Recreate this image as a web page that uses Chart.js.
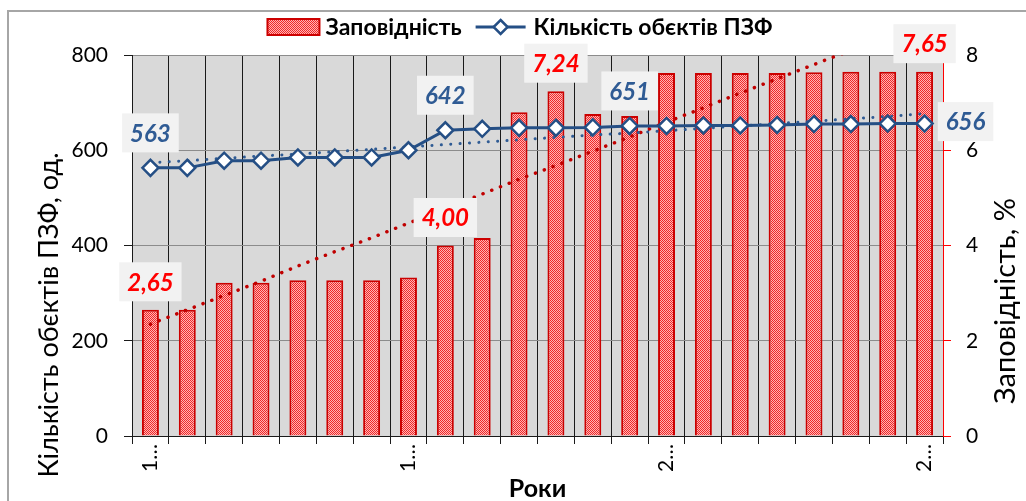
<!DOCTYPE html>
<html>
<head>
<meta charset="utf-8">
<script src="https://cdn.jsdelivr.net/npm/chart.js@4/dist/chart.umd.min.js"></script>
<style>
  html, body { margin: 0; padding: 0; background: #fff; overflow: hidden; }
  #wrap { position: relative; width: 1026px; height: 501px; }
  #frame { position: absolute; left: 7px; top: 10px; width: 1100px; height: 600px; border: 2px solid #a6a6a6; }
  #chart { position: absolute; left: 0; top: 0; }
</style>
</head>
<body>
<div id="wrap">
  <div id="frame"></div>
  <canvas id="chart" width="1026" height="501"></canvas>
</div>
<script>
// Підписи категорій (роки, як видно на осі — обрізані)
const years = ['1…', '', '', '', '', '', '', '1…', '', '', '', '', '', '', '2…', '', '', '', '', '', '', '2…'];

// Заповідність, %
const reserveShare = [2.65, 2.65, 3.22, 3.22, 3.27, 3.27, 3.27, 3.33, 4.00, 4.16, 6.80, 7.24,
                      6.76, 6.72, 7.62, 7.62, 7.62, 7.62, 7.64, 7.65, 7.65, 7.65];
// Кількість об'єктів ПЗФ, од.
const objectsCount = [563, 563, 578, 578, 585, 585, 585, 600, 642, 645, 647, 647,
                      648, 651, 651, 652, 652, 653, 655, 655, 656, 656];
// Лінії тренду
const shareTrend = [2.35, 2.65, 2.95, 3.25, 3.57, 3.87, 4.16, 4.47, 4.77, 5.08, 5.39, 5.68,
                    5.98, 6.28, 6.59, 6.89, 7.20, 7.50, 7.80, 8.10, 8.40, 8.70];
const countTrend = [574, 578, 583, 588, 592, 597, 602, 607, 612, 617, 622, 627,
                    632, 636, 641, 646, 651, 656, 661, 666, 671, 677];

// Які точки підписані
const shareLabelIdx = [0, 8, 11, 21];
const countLabelIdx = [0, 8, 13, 21];

const leftTicks = [0, 200, 400, 600, 800];
const rightTicks = [0, 2, 4, 6, 8];

const FONT = 'Lato, "Open Sans", sans-serif';
const RED = '#ff0000';
const BAR_BORDER = '#cc0000';
const BLUE = '#254f85';
const BLUE_TXT = '#2f5b94';

// Візерунок для стовпчиків (дрібна червона крапка)
function makePattern() {
    const c = document.createElement('canvas');
    c.width = 2; c.height = 2;
    const g = c.getContext('2d');
    g.fillStyle = '#ffb4b4';
    g.fillRect(0, 0, 2, 2);
    g.fillStyle = '#f02828';
    g.fillRect(0, 0, 1, 1);
    g.fillRect(1, 1, 1, 1);
    return g.createPattern(c, 'repeat');
}
const barPattern = makePattern();

// Сірий фон області побудови
const plotBg = {
    id: 'plotBg',
    beforeDraw(chart) {
        const { ctx, chartArea: a } = chart;
        ctx.save();
        ctx.fillStyle = '#d9d9d9';
        ctx.fillRect(a.left, a.top, a.right - a.left, a.bottom - a.top);
        ctx.restore();
    }
};

// Легенда, назви осей Y та підписи даних
const extras = {
    id: 'extras',
    afterDraw(chart) {
        const ctx = chart.ctx;
        ctx.save();

        // --- легенда ---
        ctx.font = 'bold 23px ' + FONT;
        ctx.textBaseline = 'middle';
        const t1 = 'Заповідність';
        const t2 = 'Кількість обєктів ПЗФ';
        const w1 = ctx.measureText(t1).width;
        const w2 = ctx.measureText(t2).width;
        const total = 52 + 6 + w1 + 14 + 50 + 8 + w2;
        let x = 520 - total / 2;
        const ly = 27;
        ctx.fillStyle = barPattern;
        ctx.fillRect(x, ly - 8, 52, 16);
        ctx.strokeStyle = BAR_BORDER;
        ctx.lineWidth = 2;
        ctx.strokeRect(x, ly - 8, 52, 16);
        x += 58;
        ctx.fillStyle = '#000';
        ctx.textAlign = 'left';
        ctx.fillText(t1, x, ly + 1);
        x += w1 + 14;
        ctx.strokeStyle = BLUE;
        ctx.lineWidth = 3;
        ctx.beginPath();
        ctx.moveTo(x, ly); ctx.lineTo(x + 50, ly);
        ctx.stroke();
        const cx = x + 25;
        ctx.beginPath();
        ctx.moveTo(cx, ly - 7); ctx.lineTo(cx + 7, ly); ctx.lineTo(cx, ly + 7); ctx.lineTo(cx - 7, ly);
        ctx.closePath();
        ctx.fillStyle = '#fff';
        ctx.fill();
        ctx.lineWidth = 2.5;
        ctx.stroke();
        x += 58;
        ctx.fillStyle = '#000';
        ctx.fillText(t2, x, ly + 1);

        // --- назви осей Y ---
        ctx.textAlign = 'center';
        ctx.font = '27px ' + FONT;
        ctx.save();
        ctx.translate(49, 315);
        ctx.rotate(-Math.PI / 2);
        ctx.fillText('Кількість обєктів ПЗФ, од.', 0, 0);
        ctx.restore();
        ctx.font = '29px ' + FONT;
        ctx.save();
        ctx.translate(1006, 301);
        ctx.rotate(-Math.PI / 2);
        ctx.fillText('Заповідність, %', 0, 0);
        ctx.restore();

        // --- підписи даних ---
        ctx.font = 'italic bold 24px ' + FONT;
        function tag(text, px, py, color) {
            const w = ctx.measureText(text).width + 16;
            const h = 39;
            ctx.fillStyle = '#f2f2f2';
            ctx.fillRect(px - w / 2, py - h / 2, w, h);
            ctx.fillStyle = color;
            ctx.textAlign = 'center';
            ctx.fillText(text, px, py + 1);
        }
        const barMeta = chart.getDatasetMeta(0);
        shareLabelIdx.forEach(i => {
            const el = barMeta.data[i];
            tag(reserveShare[i].toFixed(2).replace('.', ','), el.x, el.y - 28, RED);
        });
        const lineMeta = chart.getDatasetMeta(1);
        countLabelIdx.forEach(i => {
            const el = lineMeta.data[i];
            if (i === objectsCount.length - 1) {
                tag(String(objectsCount[i]), el.x + 41, el.y - 2, BLUE_TXT);
            } else {
                tag(String(objectsCount[i]), el.x, el.y - 35, BLUE_TXT);
            }
        });
        ctx.restore();
    }
};

new Chart(document.getElementById('chart'), {
    type: 'bar',
    data: {
        labels: years,
        datasets: [
            {
                label: 'Заповідність',
                data: reserveShare,
                yAxisID: 'y1',
                backgroundColor: barPattern,
                borderColor: BAR_BORDER,
                borderWidth: 2,
                barPercentage: 0.46,
                categoryPercentage: 1,
                order: 3
            },
            {
                type: 'line',
                label: 'Кількість обєктів ПЗФ',
                data: objectsCount,
                yAxisID: 'y',
                borderColor: BLUE,
                borderWidth: 3,
                pointStyle: 'rectRot',
                pointRadius: 8,
                pointBackgroundColor: '#fff',
                pointBorderColor: BLUE,
                pointBorderWidth: 2.5,
                tension: 0,
                order: 0
            },
            {
                type: 'line',
                label: 'Тренд заповідності',
                data: shareTrend,
                yAxisID: 'y1',
                borderColor: '#c00000',
                borderWidth: 3.5,
                borderDash: [0.1, 9.3],
                borderCapStyle: 'round',
                pointRadius: 0,
                order: 2
            },
            {
                type: 'line',
                label: 'Тренд кількості',
                data: countTrend,
                yAxisID: 'y',
                borderColor: BLUE_TXT,
                borderWidth: 3,
                borderDash: [0.1, 9.3],
                borderCapStyle: 'round',
                pointRadius: 0,
                order: 1
            }
        ]
    },
    options: {
        responsive: false,
        animation: false,
        devicePixelRatio: 1,
        layout: { padding: { top: 55, left: 0, right: 0, bottom: 0 } },
        plugins: {
            legend: { display: false },
            tooltip: { enabled: false }
        },
        scales: {
            x: {
                offset: true,
                grid: { offset: true, color: '#1a1a1a', lineWidth: 1, tickLength: 8, tickColor: '#1a1a1a' },
                border: { color: '#1a1a1a', width: 1 },
                ticks: {
                    autoSkip: false,
                    minRotation: 90,
                    maxRotation: 90,
                    padding: 0,
                    color: '#000',
                    font: { family: FONT, size: 21 }
                },
                title: {
                    display: true,
                    text: 'Роки',
                    color: '#000',
                    font: { family: FONT, size: 25, weight: 'bold', lineHeight: 1 },
                    padding: { top: 0, bottom: 0 }
                },
                afterFit(s) { s.height = 65; }
            },
            y: {
                position: 'left',
                min: 0,
                max: 800,
                afterBuildTicks(s) { s.ticks = leftTicks.map(v => ({ value: v })); },
                grid: { color: '#8c8c8c', lineWidth: 1, tickLength: 8, tickColor: '#1a1a1a' },
                border: { color: '#1a1a1a', width: 1 },
                ticks: { padding: 16, color: '#000', font: { family: FONT, size: 21 } },
                afterFit(s) { s.width = 132; }
            },
            y1: {
                position: 'right',
                min: 0,
                max: 8,
                afterBuildTicks(s) { s.ticks = rightTicks.map(v => ({ value: v })); },
                grid: { drawOnChartArea: false, tickLength: 8, color: RED, tickColor: RED },
                border: { color: RED, width: 1 },
                ticks: { padding: 15, color: '#000', font: { family: FONT, size: 21 } },
                afterFit(s) { s.width = 83; }
            }
        }
    },
    plugins: [plotBg, extras]
});
</script>
</body>
</html>
